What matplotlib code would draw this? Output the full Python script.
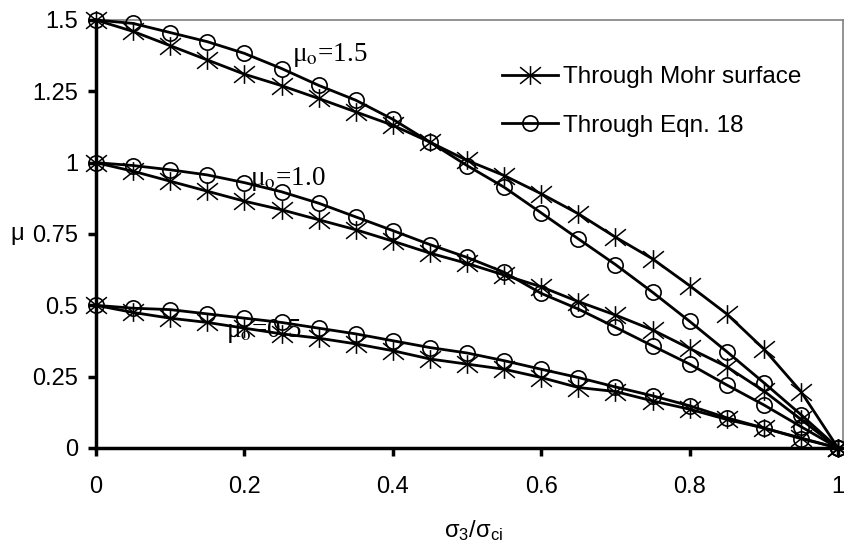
import matplotlib
matplotlib.use("Agg")
import matplotlib.pyplot as plt
from matplotlib.path import Path
from matplotlib.lines import Line2D

plt.rcParams['font.family'] = ['Liberation Sans', 'DejaVu Sans']
plt.rcParams['mathtext.fontset'] = 'custom'
plt.rcParams['mathtext.rm'] = 'Liberation Sans'
plt.rcParams['mathtext.it'] = 'Liberation Sans'

# ---- data ----
x = [0.0, 0.05, 0.1, 0.15, 0.2, 0.25, 0.3, 0.35, 0.4, 0.45, 0.5,
     0.55, 0.6, 0.65, 0.7, 0.75, 0.8, 0.85, 0.9, 0.95, 1.0]

mohr_15 = [1.5, 1.46, 1.41, 1.36, 1.31, 1.27, 1.225, 1.178, 1.131, 1.072, 1.008,
           0.955, 0.891, 0.821, 0.739, 0.663, 0.569, 0.47, 0.347, 0.198, 0.0]
eqn_15 = [1.5, 1.488, 1.456, 1.424, 1.383, 1.33, 1.271, 1.219, 1.152, 1.072, 0.99,
          0.914, 0.824, 0.733, 0.643, 0.546, 0.444, 0.338, 0.229, 0.117, 0.0]
mohr_10 = [1.0, 0.97, 0.935, 0.90, 0.865, 0.835, 0.80, 0.765, 0.725, 0.683, 0.647,
           0.606, 0.565, 0.513, 0.466, 0.414, 0.349, 0.285, 0.20, 0.10, 0.0]
eqn_10 = [1.0, 0.99, 0.975, 0.957, 0.93, 0.898, 0.858, 0.81, 0.762, 0.713, 0.668,
          0.616, 0.542, 0.487, 0.423, 0.358, 0.294, 0.221, 0.151, 0.075, 0.0]
mohr_05 = [0.5, 0.475, 0.455, 0.44, 0.42, 0.40, 0.385, 0.365, 0.341, 0.312, 0.294,
           0.276, 0.247, 0.212, 0.198, 0.165, 0.136, 0.10, 0.07, 0.035, 0.0]
eqn_05 = [0.5, 0.49, 0.485, 0.47, 0.455, 0.44, 0.42, 0.40, 0.376, 0.352, 0.333,
          0.306, 0.276, 0.247, 0.214, 0.183, 0.148, 0.106, 0.07, 0.033, 0.0]

series_labels = ["Through Mohr surface", "Through Eqn. 18"]
curve_labels = [r"μ$_{\mathrm{o}}$=1.5", r"μ$_{\mathrm{o}}$=1.0", r"μ$_{\mathrm{o}}$=0.5"]
curve_label_pos = [(0.264, 1.356), (0.2075, 0.922), (0.175, 0.39)]
xticks = [0, 0.2, 0.4, 0.6, 0.8, 1.0]
xticklabels = ['0', '0.2', '0.4', '0.6', '0.8', '1']
yticks = [0, 0.25, 0.5, 0.75, 1.0, 1.25, 1.5]
yticklabels = ['0', '0.25', '0.5', '0.75', '1', '1.25', '1.5']

# ---- star marker: vertical line + wide X ----
star = Path([(0, -0.9), (0, 0.9), (-1, -0.8), (1, 0.8), (-1, 0.8), (1, -0.8)],
            [Path.MOVETO, Path.LINETO, Path.MOVETO, Path.LINETO, Path.MOVETO, Path.LINETO])

W, H = 845, 548
fig = plt.figure(figsize=(W / 100, H / 100), dpi=100)
ax = fig.add_axes([96 / W, (H - 448) / H, (843 - 96) / W, (448 - 20) / H])

lw = 2.0
star_kw = dict(marker=star, ms=15, mew=1.1, mfc='none', mec='black')
circ_kw = dict(marker='o', ms=11, mew=1.2, mfc='none', mec='black')
for m in (mohr_15, mohr_10, mohr_05):
    ax.plot(x, m, color='black', lw=lw, zorder=3, clip_on=False, **star_kw)
for e in (eqn_15, eqn_10, eqn_05):
    ax.plot(x, e, color='black', lw=lw, zorder=3, clip_on=False, **circ_kw)

for lab, (px, py) in zip(curve_labels, curve_label_pos):
    ax.text(px, py, lab, fontsize=19.5, family='Liberation Serif',
            math_fontfamily='stix', ha='left', va='baseline', zorder=1)

ax.set_xlim(0, 1.0067)
ax.set_ylim(0, 1.5)
ax.set_xticks(xticks)
ax.set_xticklabels(xticklabels)
ax.set_yticks(yticks)
ax.set_yticklabels(yticklabels)
ax.tick_params(axis='both', direction='out', length=6, width=2.5,
               labelsize=17, color='black')
ax.tick_params(axis='x', pad=14)
ax.tick_params(axis='y', pad=7)

for s in ('left', 'bottom'):
    ax.spines[s].set_linewidth(2.5)
    ax.spines[s].set_color('black')
for s in ('top', 'right'):
    ax.spines[s].set_linewidth(1.2)
    ax.spines[s].set_color('#808080')

handles = [Line2D([], [], color='black', lw=lw, **star_kw),
           Line2D([], [], color='black', lw=lw, **circ_kw)]
ax.legend(handles, series_labels, loc='upper left',
          bbox_to_anchor=(502 / W, 1 - 66 / H), bbox_transform=fig.transFigure,
          frameon=False, fontsize=17.5, handlelength=2.3, handletextpad=0.2,
          labelspacing=1.1, borderpad=0, borderaxespad=0, numpoints=1)

fig.text(473 / W, 1 - 531 / H, r"σ$_{\mathrm{3}}$/σ$_{\mathrm{ci}}$", fontsize=17,
         ha='center', va='center')
fig.text(17 / W, 1 - 234 / H, "μ", fontsize=17, ha='center', va='center')

fig.savefig("out.png", dpi=100)
